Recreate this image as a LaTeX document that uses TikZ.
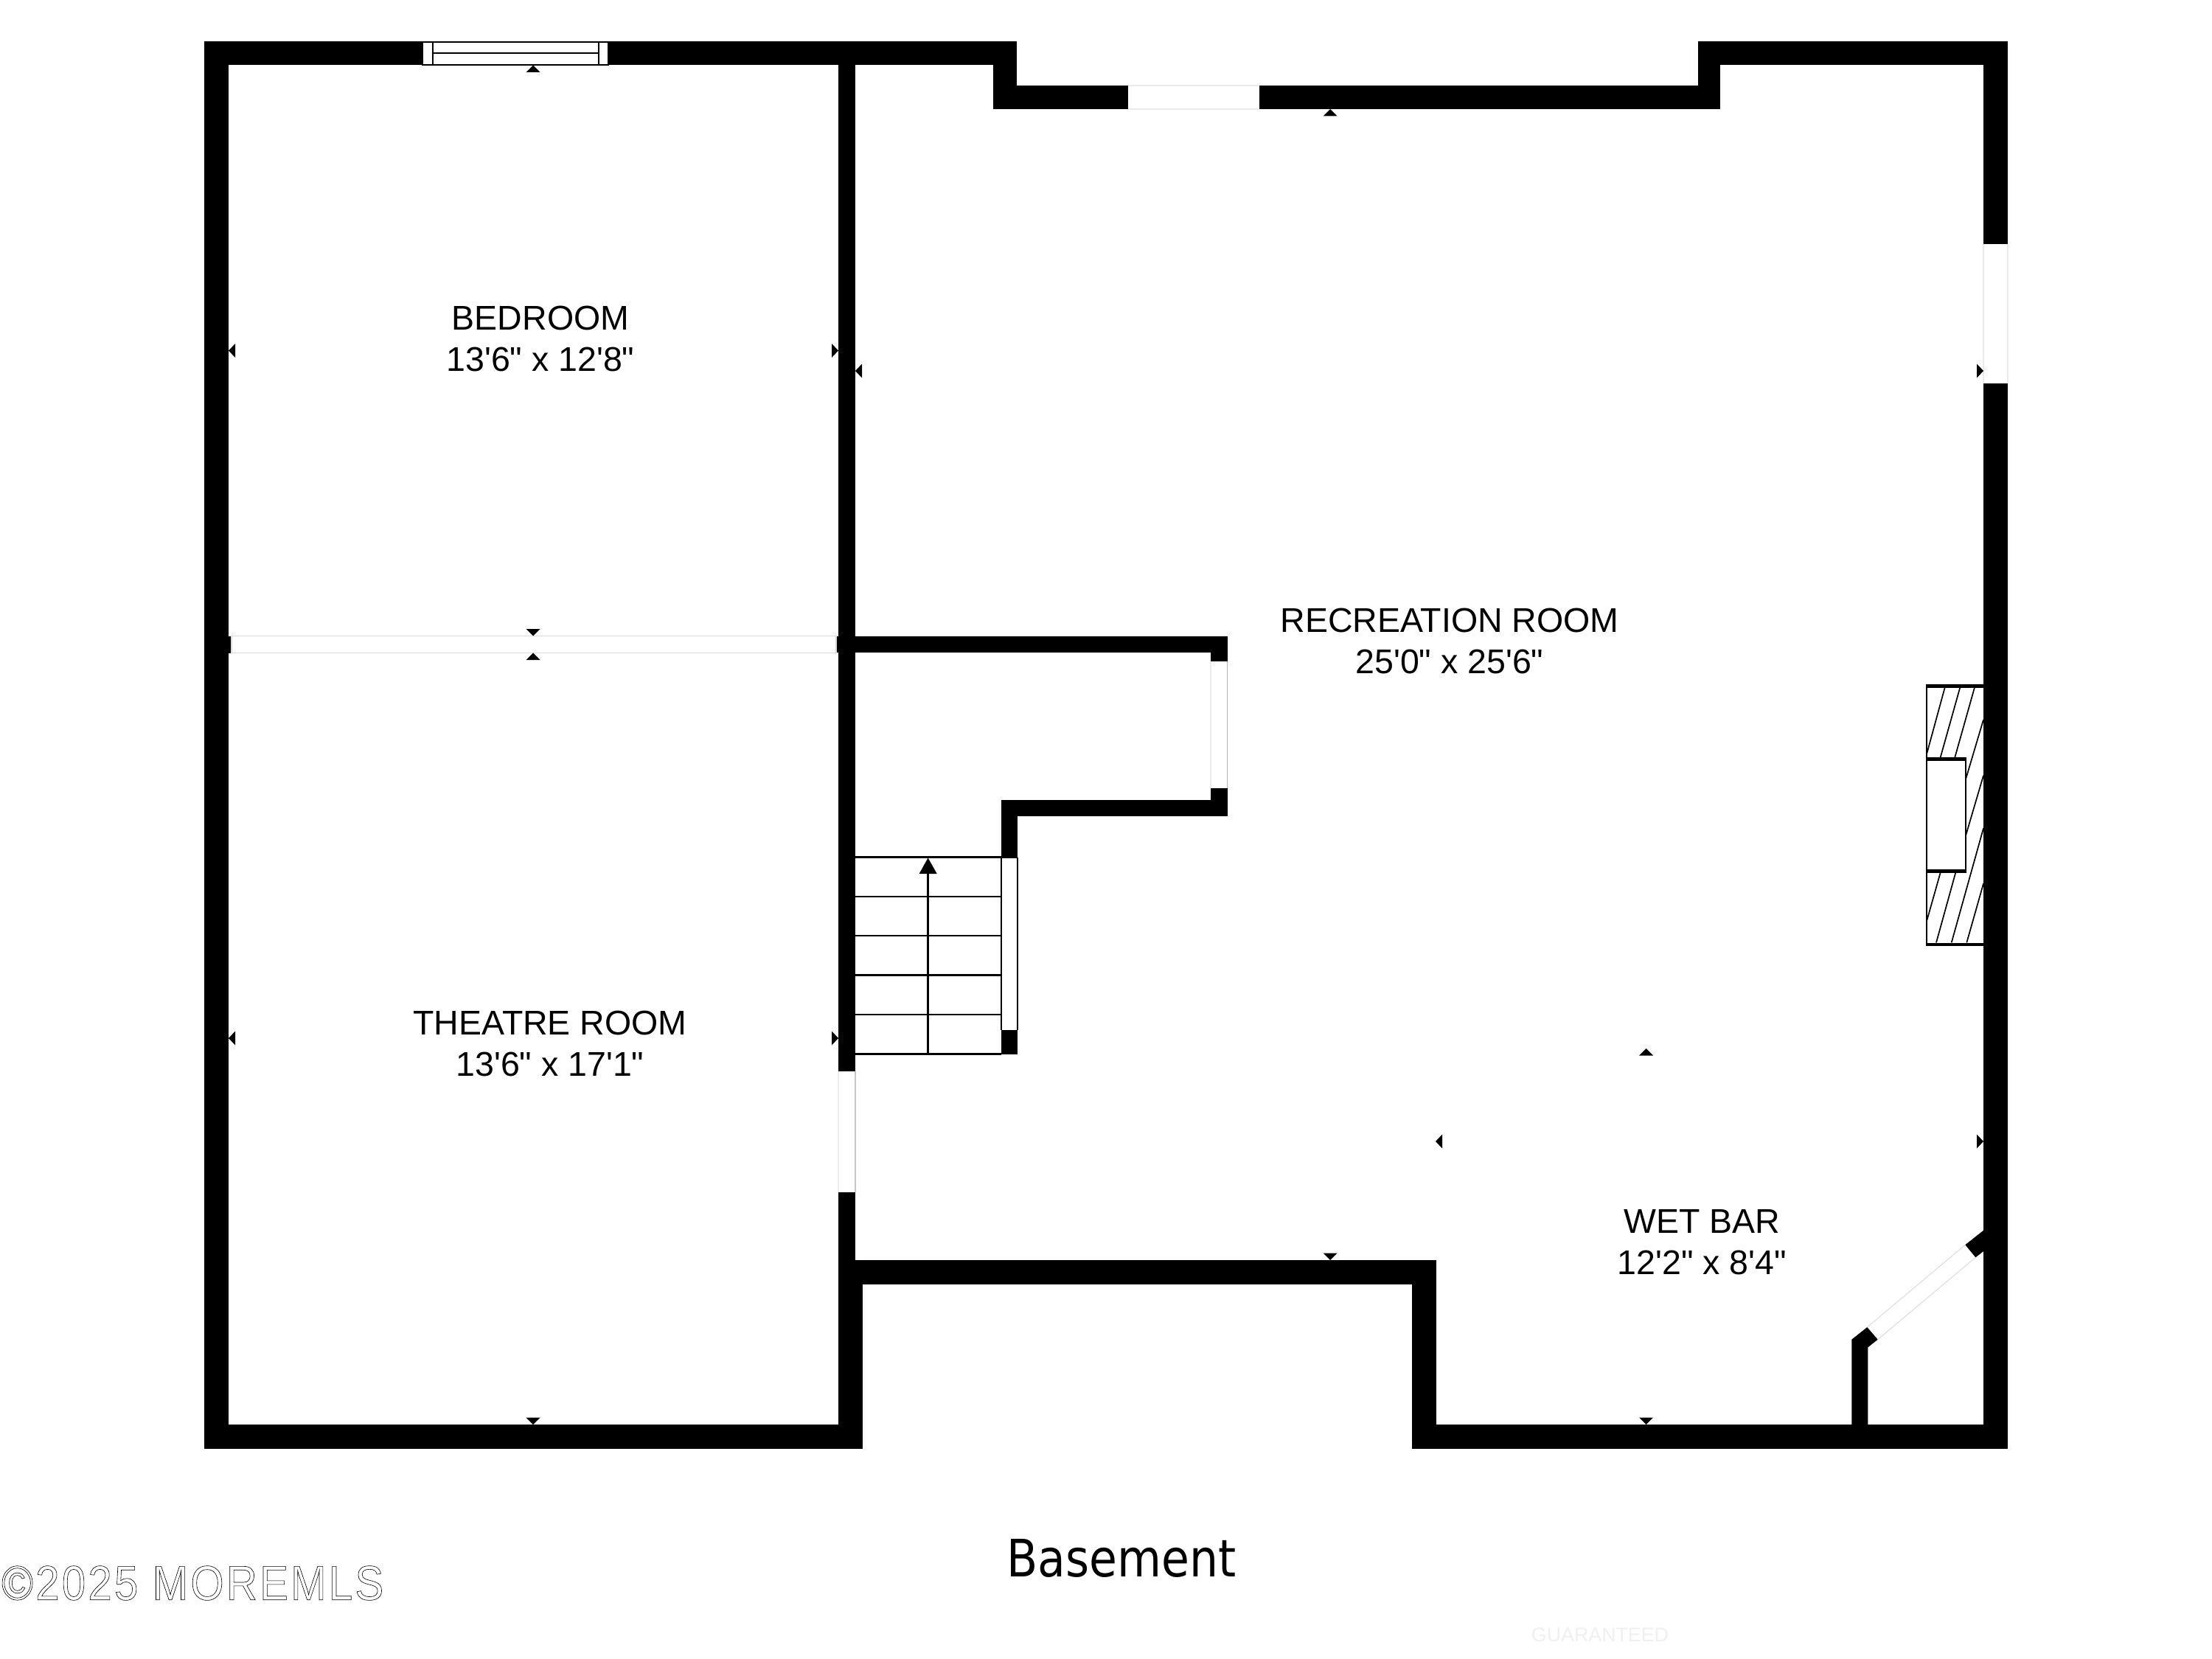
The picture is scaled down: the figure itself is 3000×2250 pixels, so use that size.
\documentclass[tikz,border=0pt]{standalone}
\usepackage{fontspec}
\setmainfont{Liberation Sans}
\newfontfamily\labelfont{Liberation Sans}
\newfontfamily\basefont[FakeStretch=0.88]{DejaVu Sans}
\newfontfamily\markfont[FakeStretch=0.88,LetterSpace=5]{Liberation Sans}
\tikzset{
  wall/.style={fill=black,draw=none},
  gap/.style={draw=black!14,line width=1.2pt,fill=white},
  thin/.style={draw=black,line width=2.2pt},
  roomlabel/.style={align=center,font=\labelfont\fontsize{46.5}{56}\selectfont,inner sep=0pt},
  tick/.style={fill=black,draw=none}
}
\newcommand{\tup}[2]{\fill[tick] (#1-9.5,#2+9.5) -- (#1+9.5,#2+9.5) -- (#1,#2) -- cycle;}
\newcommand{\tdn}[2]{\fill[tick] (#1-9.5,#2-9.5) -- (#1+9.5,#2-9.5) -- (#1,#2) -- cycle;}
\newcommand{\tlf}[2]{\fill[tick] (#1+9,#2-9.5) -- (#1+9,#2+9.5) -- (#1,#2) -- cycle;}
\newcommand{\trt}[2]{\fill[tick] (#1-9,#2-9.5) -- (#1-9,#2+9.5) -- (#1,#2) -- cycle;}
\begin{document}
\begin{tikzpicture}[x=1pt,y=-1pt]
\useasboundingbox (0,0) rectangle (3000,2250);
\fill[white] (0,0) rectangle (3000,2250);
% outer left + top walls
\fill[wall] (277,56) rectangle (1379,88);
\fill[wall] (277,56) rectangle (310,1965);
\fill[wall] (277,1932) rectangle (1170,1965);
\fill[wall] (1347,56) rectangle (1379,148);
\fill[wall] (1347,116) rectangle (2333,148);
\fill[wall] (2303,56) rectangle (2333,148);
\fill[wall] (2303,56) rectangle (2723,88);
\fill[wall] (2690,56) rectangle (2723,1965);
\fill[wall] (1915,1932) rectangle (2723,1965);
% inner walls
\fill[wall] (1137,56) rectangle (1160,1453);
\fill[wall] (1137,1617) rectangle (1160,1742);
\fill[wall] (1137,1709) rectangle (1948,1742);
\fill[wall] (1137,1709) rectangle (1170,1965);
\fill[wall] (1915,1709) rectangle (1948,1965);
\fill[wall] (1134,862.5) rectangle (1664.5,885);
\fill[wall] (1642,862.5) rectangle (1664.5,897);
\fill[wall] (1642,1068.5) rectangle (1664.5,1106.5);
\fill[wall] (1358,1084.5) rectangle (1664.5,1106.5);
\fill[wall] (1358,1084.5) rectangle (1380,1162.5);
\fill[wall] (1358,1397) rectangle (1380,1430);
\fill[wall] (309,862.5) rectangle (314,885.5);
% wet bar stub and angled door jambs
\fill[wall] (2511.3,1932.5) -- (2511.3,1816.7) -- (2532.3,1800) -- (2546.7,1816.7) -- (2533.3,1827.3) -- (2533.3,1932.5) -- cycle;
\fill[wall] (2665.3,1688.3) -- (2690.5,1668.3) -- (2690.5,1696.7) -- (2679.3,1705.3) -- cycle;
% openings
\draw[gap] (314,862.5) rectangle (1134,885.5);
\fill[white] (572,56) rectangle (826,87);
\draw[draw=black,line width=1.6pt] (572.8,56.8) rectangle (825.2,88);
\draw[thin,line width=1.6pt] (587,56) -- (587,88) (812,56) -- (812,88) (587,72) -- (812,72);
\fill[white] (1530,116) rectangle (1708,148);
\draw[draw=black!8,line width=1.2pt] (1530,116) -- (1708,116) (1530,148) -- (1708,148);
\fill[white] (2690,331) rectangle (2723,520);
\draw[draw=black!8,line width=1.2pt] (2690,331) -- (2690,520) (2723,331) -- (2723,520);
\fill[white] (1642,897) rectangle (1664.5,1068.5);
\draw[draw=black!8,line width=1.2pt] (1642,897) -- (1642,1068.5);
\draw[draw=black!30,line width=1.2pt] (1664.5,897) -- (1664.5,1068.5);
\draw[draw=black!7,line width=1.2pt] (1137,1453) -- (1137,1617);
\draw[draw=black!22,line width=1.2pt] (1160,1453) -- (1160,1617);
\draw[draw=black!12,line width=1.2pt] (2532.3,1800) -- (2665.3,1688.3) (2546.7,1816.7) -- (2679.3,1705.3);
% stairs
\draw[thin] (1160,1162.5) -- (1380,1162.5) (1160,1215.6) -- (1358,1215.6) (1160,1269) -- (1358,1269) (1160,1322.4) -- (1358,1322.4) (1160,1376) -- (1358,1376) (1160,1429.5) -- (1358,1429.5);
\draw[thin] (1358,1162.5) -- (1358,1397) (1380,1162.5) -- (1380,1397);
\draw[thin] (1258.4,1185) -- (1258.4,1429.5);
\fill[tick] (1246.6,1185) -- (1270.7,1185) -- (1258.6,1163.5) -- cycle;
% fireplace
\draw[thin,line width=1.4pt] (2613,928) -- (2613,1283) (2613,1031) -- (2666,1031) -- (2666,1183);
\fill[wall] (2613,928) rectangle (2690.5,932.5);
\fill[wall] (2613,1278.5) rectangle (2690.5,1283);
\fill[wall] (2613,1027) rectangle (2666.5,1031);
\fill[wall] (2613,1179) rectangle (2666.5,1183.5);
\begin{scope}[line width=1.7pt,draw=black]
\draw (2637.7,932.3) -- (2613.3,1021.7);
\draw (2658.3,932.3) -- (2631.7,1027);
\draw (2678,932.3) -- (2651.3,1027);
\draw (2690,976) -- (2666,1056.7);
\draw (2690,1051.7) -- (2666,1133.3);
\draw (2690,1123.3) -- (2646.7,1278.3);
\draw (2631.7,1183.3) -- (2613.3,1248.3);
\draw (2652.3,1183.3) -- (2626,1278.3);
\draw (2690,1198.3) -- (2667.3,1278.3);
\end{scope}
% dimension ticks
\tup{723}{88.5}
\tlf{310}{475.5}
\trt{1137}{475.5}
\tlf{1160}{503}
\tup{1804}{148}
\trt{2690}{503}
\tdn{723}{862.5}
\tup{723}{885.5}
\tlf{310}{1408}
\trt{1137}{1408}
\tdn{723}{1932}
\tdn{1804}{1709}
\tup{2232.5}{1422}
\tlf{1947}{1548}
\trt{2690}{1548}
\tdn{2232.5}{1932}
% labels
\node[roomlabel] (bedroom) at (733,459) {BEDROOM\\13'6" x 12'8"};
\node[roomlabel] (theatre) at (746,1415) {THEATRE ROOM\\13'6" x 17'1"};
\node[roomlabel] (recroom) at (1966,869) {RECREATION ROOM\\25'0" x 25'6"};
\node[roomlabel] (wetbar) at (2308.5,1685) {WET BAR\\12'2" x 8'4"};
\node[inner sep=0pt,font=\basefont\fontsize{70}{80}\selectfont] (basement) at (1521,2113) {Basement};
\node[inner sep=0pt,anchor=west,font=\markfont\fontsize{66}{70}\selectfont] (mark) at (2,2147) {\special{pdf:code 1 Tr 0.6 w}©2025 MOREMLS\special{pdf:code 0 Tr}};
\node[inner sep=0pt,anchor=center,text=black!6,font=\labelfont\fontsize{26.8}{30}\selectfont] (ghost) at (2170,2217) {GUARANTEED};
\end{tikzpicture}
\end{document}
